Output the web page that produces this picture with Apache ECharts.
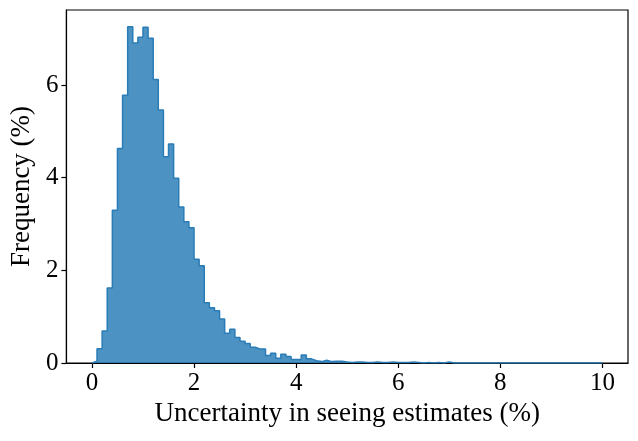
<!DOCTYPE html>
<html>
<head>
<meta charset="utf-8">
<script src="https://cdn.jsdelivr.net/npm/echarts@6/dist/echarts.min.js"></script>
<style>
  html, body { margin: 0; padding: 0; background: #fff; }
  #chart { width: 638px; height: 441px; }
</style>
</head>
<body>
<div id="chart"></div>
<script>
// histogram bins: start, width and frequency (%) per bin
const binStart = 0;
const binWidth = 0.1;
const freq = [
  0.04, 0.31, 0.69, 1.62, 3.30, 4.63, 5.78, 7.26, 6.91, 7.03,
  7.25, 7.01, 6.12, 5.46, 4.45, 4.73, 3.99, 3.37, 3.05, 2.92,
  2.24, 2.10, 1.30, 1.19, 1.13, 0.95, 0.64, 0.73, 0.55, 0.47,
  0.42, 0.34, 0.30, 0.30, 0.16, 0.21, 0.10, 0.19, 0.14, 0.075,
  0.075, 0.17, 0.09, 0.05, 0.03, 0.06, 0.03, 0.04, 0.04, 0.02,
  0.01, 0.02, 0.02, 0.01, 0.01, 0.02, 0.01, 0.01, 0.02, 0.01,
  0.01, 0.01, 0.02, 0.01, 0, 0.01, 0, 0.01, 0, 0.02,
  0, 0, 0, 0, 0, 0, 0, 0, 0, 0,
  0, 0, 0, 0, 0, 0, 0, 0, 0, 0,
  0, 0, 0, 0, 0, 0, 0, 0, 0, 0
];
const xTicks = [0, 2, 4, 6, 8, 10];
const yTicks = [0, 2, 4, 6];
const xTitle = 'Uncertainty in seeing estimates (%)';
const yTitle = 'Frequency (%)';

const fontFamily = '"Liberation Serif", "DejaVu Serif", serif';

document.addEventListener('DOMContentLoaded', () => {
    const chart = echarts.init(document.getElementById('chart'));

    // step outline: [left edge, height] per bin, closed back to zero at the end
    const stepData = [[binStart, 0]];
    freq.forEach((v, i) => {
        stepData.push([+(binStart + i * binWidth).toFixed(3), v]);
    });
    const lastEdge = +(binStart + freq.length * binWidth).toFixed(3);
    stepData.push([lastEdge, freq[freq.length - 1]]);
    stepData.push([lastEdge, 0]);

    const tickText = { color: '#000', fontSize: 25, fontFamily: fontFamily };
    const titleText = { color: '#000', fontSize: 27, fontFamily: fontFamily };

    const option = {
        animation: false,
        backgroundColor: '#fff',
        grid: {
            left: 65, right: 10, top: 10, bottom: 78,
            show: true, borderColor: '#000', borderWidth: 1.2,
            backgroundColor: 'transparent'
        },
        xAxis: {
            type: 'value',
            min: -0.5,
            max: 10.5,
            name: xTitle,
            nameLocation: 'middle',
            nameGap: 36,
            nameTextStyle: titleText,
            axisLine: { show: true, onZero: false, lineStyle: { color: '#000', width: 1.2 } },
            axisTick: { show: true, inside: false, length: 5, customValues: xTicks,
                lineStyle: { color: '#000', width: 1.2 } },
            axisLabel: Object.assign({ margin: 8, customValues: xTicks }, tickText),
            splitLine: { show: false }
        },
        yAxis: {
            type: 'value',
            min: 0,
            max: 7.62,
            name: yTitle,
            nameLocation: 'middle',
            nameGap: 28,
            nameRotate: 90,
            nameTextStyle: titleText,
            axisLine: { show: true, onZero: false, lineStyle: { color: '#000', width: 1.2 } },
            axisTick: { show: true, inside: false, length: 5, customValues: yTicks,
                lineStyle: { color: '#000', width: 1.2 } },
            axisLabel: Object.assign({ margin: 8, customValues: yTicks }, tickText),
            splitLine: { show: false }
        },
        series: [
            {
                type: 'line',
                step: 'end',
                data: stepData,
                symbol: 'none',
                lineStyle: { color: '#2a7cb7', width: 1.5 },
                areaStyle: { color: 'rgba(31,119,180,0.8)', opacity: 1, origin: 'start' },
                clip: true
            }
        ]
    };

    chart.setOption(option);
});
</script>
</body>
</html>
